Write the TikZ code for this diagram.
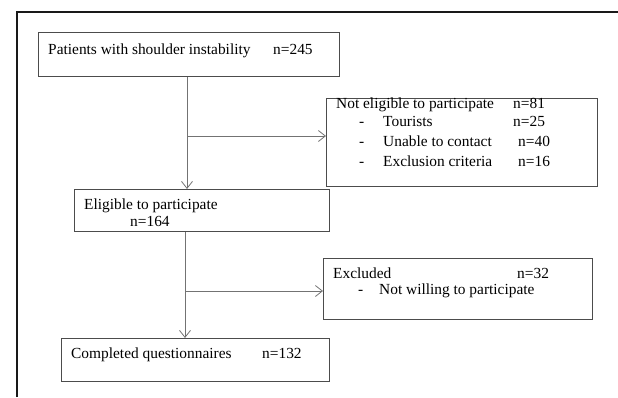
\documentclass[tikz,border=0pt]{standalone}
\usepackage{fontspec}
\setmainfont{Liberation Serif}
\usetikzlibrary{arrows.meta}
\begin{document}
\begin{tikzpicture}[x=1pt,y=-1pt,
  box/.style={draw=black!70, line width=0.9pt, anchor=north west, inner sep=0pt, minimum width=#1},
  txt/.style={anchor=base west, inner sep=0pt, font=\fontsize{15.4}{18}\selectfont},
  conn/.style={draw=black!55, line width=0.9pt},
  arr/.style={conn, -{Straight Barb[length=7pt,width=11pt,line width=0.8pt]}}]
\useasboundingbox (0,0) rectangle (618,397);
% outer frame (clipped)
\draw[line width=2pt, black!90] (16.7,397) -- (16.7,12) -- (618,12);
% boxes
\node[box=301pt, minimum height=44pt] (b1) at (37.5,32) {};
\node[box=271pt, minimum height=88pt] (b2) at (326,98) {};
\node[box=255pt, minimum height=42pt] (b3) at (74,189) {};
\node[box=269pt, minimum height=61pt] (b4) at (323,258) {};
\node[box=268pt, minimum height=43pt] (b5) at (61,338) {};
% texts
\node[txt] (t1) at (48,54) {Patients with shoulder instability};
\node[txt] (t1n) at (273,54) {n=245};
\node[txt] (t2) at (336,108) {Not eligible to participate};
\node[txt] (t2n) at (513,108) {n=81};
\node[txt] (t2a) at (359,126) {-};
\node[txt] (t2b) at (383,126) {Tourists};
\node[txt] (t2bn) at (513,126) {n=25};
\node[txt] (t2c) at (359,146) {-};
\node[txt] (t2d) at (383,146) {Unable to contact};
\node[txt] (t2dn) at (518,146) {n=40};
\node[txt] (t2e) at (359,166) {-};
\node[txt] (t2f) at (383,166) {Exclusion criteria};
\node[txt] (t2fn) at (518,166) {n=16};
\node[txt] (t3) at (84,209) {Eligible to participate};
\node[txt] (t3n) at (130,226) {n=164};
\node[txt] (t4) at (333,278) {Excluded};
\node[txt] (t4n) at (517,278) {n=32};
\node[txt] (t4a) at (358,294) {-};
\node[txt] (t4b) at (379,294) {Not willing to participate};
\node[txt] (t5) at (71,358) {Completed questionnaires};
\node[txt] (t5n) at (262,358) {n=132};
% connectors
\coordinate (v1) at (187,0);
\coordinate (v2) at (185,0);
\coordinate (j1) at (187,136);
\coordinate (j2) at (185,291);
\draw[arr] (b1.south -| v1) -- (b3.north -| v1);
\draw[arr] (j1) -- (j1 -| b2.west);
\draw[arr] (b3.south -| v2) -- (b5.north -| v2);
\draw[arr] (j2) -- (j2 -| b4.west);
\end{tikzpicture}
\end{document}
